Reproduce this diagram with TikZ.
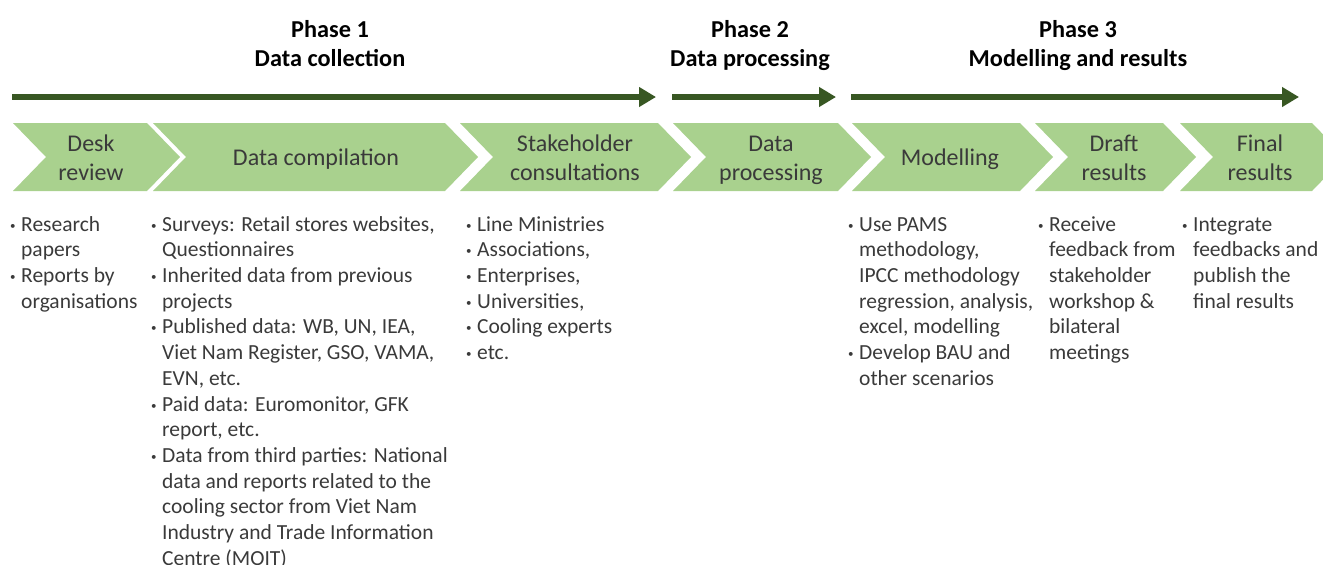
\documentclass[tikz,border=0pt]{standalone}
\usepackage{fontspec}
\setmainfont{Carlito}
\usetikzlibrary{arrows.meta}
\definecolor{chevfill}{HTML}{A9D18E}
\definecolor{arrgreen}{HTML}{385723}
\definecolor{bodytxt}{HTML}{3A3A3A}
\newcommand{\bitem}[1]{\strut\makebox[11pt][l]{\raisebox{2pt}{\fontsize{11}{11}\selectfont\textbullet}}#1}
\newcommand{\cont}[1]{\strut\hspace*{11pt}#1}
\newcommand{\chevron}[6]{% name, L, R, depth, text x, text
  \fill[chevfill] (#2,123) -- (#3,123) -- (#3+#4,157) -- (#3,191) -- (#2,191) -- (#2+#4,157) -- cycle;
  \node[chevlabel] (#1) at (#5,160) {#6};
}
\begin{document}
\begin{tikzpicture}[x=1pt,y=-1pt,
  list/.style={anchor=north west, align=left, inner sep=0pt, text=bodytxt, font=\fontsize{21.5}{25.7}\selectfont},
  chevlabel/.style={align=center, inner sep=0pt, text=bodytxt, font=\fontsize{24}{29}\selectfont},
  phasetitle/.style={align=center, inner sep=0pt, font=\bfseries\fontsize{24.3}{29}\selectfont},
  phasearrow/.style={draw=arrgreen, line width=5.5pt, -{Triangle[length=17pt,width=19pt]}}
]
\useasboundingbox (0,0) rectangle (1323,565);
\clip (0,0) rectangle (1323,565);

% phase titles
\node[phasetitle] (p1) at (330,46.5) {\strut Phase 1\\\strut Data collection};
\node[phasetitle] (p2) at (750,46.5) {\strut Phase 2\\\strut Data processing};
\node[phasetitle] (p3) at (1078,46.5) {\strut Phase 3\\\strut Modelling and results};

% phase arrows
\coordinate (a1s) at (12,97);  \coordinate (a1e) at (656,97);
\coordinate (a2s) at (672,97); \coordinate (a2e) at (836,97);
\coordinate (a3s) at (851,97); \coordinate (a3e) at (1299,97);
\draw[phasearrow] (a1s) -- (a1e);
\draw[phasearrow] (a2s) -- (a2e);
\draw[phasearrow] (a3s) -- (a3e);

% chevrons
\chevron{c1}{13}{147}{33}{91}{\strut Desk\\\strut review}
\chevron{c2}{153}{445}{33}{316}{\strut Data compilation}
\chevron{c3}{460}{658}{33}{575}{\strut Stakeholder\\\strut consultations}
\chevron{c4}{673}{838}{33}{771}{\strut Data\\\strut processing}
\chevron{c5}{852}{1020}{33}{950}{\strut Modelling}
\chevron{c6}{1035}{1163}{33}{1114}{\strut Draft\\\strut results}
\chevron{c7}{1180}{1312}{33}{1260}{\strut Final\\\strut results}

% lists
\node[list] (l1) at (10,213) {\bitem{Research}\\\cont{papers}\\\bitem{Reports by}\\\cont{organisations}};
\node[list] (l2) at (151,213) {\bitem{Surveys: Retail stores websites,}\\\cont{Questionnaires}\\
\bitem{Inherited data from previous}\\\cont{projects}\\
\bitem{Published data: WB, UN, IEA,}\\\cont{Viet Nam Register, GSO, VAMA,}\\\cont{EVN, etc.}\\
\bitem{Paid data: Euromonitor, GFK}\\\cont{report, etc.}\\
\bitem{Data from third parties: National}\\\cont{data and reports related to the}\\\cont{cooling sector from Viet Nam}\\\cont{Industry and Trade Information}\\\cont{Centre (MOIT)}};
\node[list] (l3) at (466,213) {\bitem{Line Ministries}\\\bitem{Associations,}\\\bitem{Enterprises,}\\\bitem{Universities,}\\\bitem{Cooling experts}\\\bitem{etc.}};
\node[list] (l5) at (848,213) {\bitem{Use PAMS}\\\cont{methodology,}\\\cont{IPCC methodology}\\\cont{regression, analysis,}\\\cont{excel, modelling}\\\bitem{Develop BAU and}\\\cont{other scenarios}};
\node[list] (l6) at (1038,213) {\bitem{Receive}\\\cont{feedback from}\\\cont{stakeholder}\\\cont{workshop \&}\\\cont{bilateral}\\\cont{meetings}};
\node[list] (l7) at (1182,213) {\bitem{Integrate}\\\cont{feedbacks and}\\\cont{publish the}\\\cont{final results}};
\end{tikzpicture}
\end{document}
